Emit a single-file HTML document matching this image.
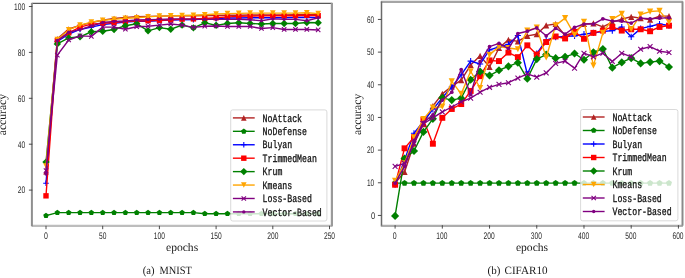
<!DOCTYPE html>
<html><head><meta charset="utf-8"><style>
html,body{margin:0;padding:0;background:#fff;}
body{width:685px;height:278px;overflow:hidden;}
svg{display:block;text-rendering:geometricPrecision;will-change:transform;}
.tk{font-family:"Liberation Sans",sans-serif;font-size:9.5px;fill:#2a2a2a;}
.lg{font-family:"Liberation Mono",monospace;font-size:11px;fill:#111;stroke:#111;stroke-width:0.3px;}
.lab{font-family:"Liberation Serif",serif;font-size:11.6px;fill:#1a1a1a;}
.cap{font-family:"Liberation Serif",serif;font-size:11.2px;fill:#1a1a1a;}
</style></head><body>
<svg width="685" height="278" viewBox="0 0 685 278">
<defs><clipPath id="cl"><rect x="32.3" y="3.4" width="299.5" height="222.4"/></clipPath><clipPath id="cr"><rect x="381.3" y="2.0" width="301.09999999999997" height="223.2"/></clipPath></defs>
<g clip-path="url(#cl)"><path d="M46.00,171.74L57.34,38.86L68.68,28.99L80.02,25.32L91.36,22.56L102.70,20.27L114.04,18.43L125.38,17.52L136.72,16.60L148.06,16.37L159.40,16.14L170.74,15.91L182.08,15.68L193.42,15.68L204.76,15.45L216.10,15.45L227.44,15.22L238.78,15.22L250.12,14.99L261.46,14.99L272.80,14.99L284.14,14.99L295.48,14.76L306.82,14.76L318.16,14.76" fill="none" stroke="#b22222" stroke-width="1.4" stroke-linejoin="round" stroke-linecap="square"/><path d="M46.00,168.94L48.80,174.54L43.20,174.54Z" fill="#b22222"/><path d="M57.34,36.06L60.14,41.66L54.54,41.66Z" fill="#b22222"/><path d="M68.68,26.19L71.48,31.79L65.88,31.79Z" fill="#b22222"/><path d="M80.02,22.52L82.82,28.12L77.22,28.12Z" fill="#b22222"/><path d="M91.36,19.76L94.16,25.36L88.56,25.36Z" fill="#b22222"/><path d="M102.70,17.47L105.50,23.07L99.90,23.07Z" fill="#b22222"/><path d="M114.04,15.63L116.84,21.23L111.24,21.23Z" fill="#b22222"/><path d="M125.38,14.72L128.18,20.32L122.58,20.32Z" fill="#b22222"/><path d="M136.72,13.80L139.52,19.40L133.92,19.40Z" fill="#b22222"/><path d="M148.06,13.57L150.86,19.17L145.26,19.17Z" fill="#b22222"/><path d="M159.40,13.34L162.20,18.94L156.60,18.94Z" fill="#b22222"/><path d="M170.74,13.11L173.54,18.71L167.94,18.71Z" fill="#b22222"/><path d="M182.08,12.88L184.88,18.48L179.28,18.48Z" fill="#b22222"/><path d="M193.42,12.88L196.22,18.48L190.62,18.48Z" fill="#b22222"/><path d="M204.76,12.65L207.56,18.25L201.96,18.25Z" fill="#b22222"/><path d="M216.10,12.65L218.90,18.25L213.30,18.25Z" fill="#b22222"/><path d="M227.44,12.42L230.24,18.02L224.64,18.02Z" fill="#b22222"/><path d="M238.78,12.42L241.58,18.02L235.98,18.02Z" fill="#b22222"/><path d="M250.12,12.19L252.92,17.79L247.32,17.79Z" fill="#b22222"/><path d="M261.46,12.19L264.26,17.79L258.66,17.79Z" fill="#b22222"/><path d="M272.80,12.19L275.60,17.79L270.00,17.79Z" fill="#b22222"/><path d="M284.14,12.19L286.94,17.79L281.34,17.79Z" fill="#b22222"/><path d="M295.48,11.96L298.28,17.56L292.68,17.56Z" fill="#b22222"/><path d="M306.82,11.96L309.62,17.56L304.02,17.56Z" fill="#b22222"/><path d="M318.16,11.96L320.96,17.56L315.36,17.56Z" fill="#b22222"/></g>
<g clip-path="url(#cl)"><path d="M46.00,215.57L57.34,212.59L68.68,212.59L80.02,212.59L91.36,212.59L102.70,212.59L114.04,212.59L125.38,212.59L136.72,212.59L148.06,212.59L159.40,212.59L170.74,212.59L182.08,212.59L193.42,212.59L204.76,213.74L216.10,213.74L227.44,213.74L238.78,213.74L250.12,213.74L261.46,213.74L272.80,213.74L284.14,213.74L295.48,213.74L306.82,213.74L318.16,213.74" fill="none" stroke="#008000" stroke-width="1.4" stroke-linejoin="round" stroke-linecap="square"/><polygon points="46.00,212.67 48.76,214.68 47.70,217.92 44.30,217.92 43.24,214.68" fill="#008000"/><polygon points="57.34,209.69 60.10,211.69 59.04,214.94 55.64,214.94 54.58,211.69" fill="#008000"/><polygon points="68.68,209.69 71.44,211.69 70.38,214.94 66.98,214.94 65.92,211.69" fill="#008000"/><polygon points="80.02,209.69 82.78,211.69 81.72,214.94 78.32,214.94 77.26,211.69" fill="#008000"/><polygon points="91.36,209.69 94.12,211.69 93.06,214.94 89.66,214.94 88.60,211.69" fill="#008000"/><polygon points="102.70,209.69 105.46,211.69 104.40,214.94 101.00,214.94 99.94,211.69" fill="#008000"/><polygon points="114.04,209.69 116.80,211.69 115.74,214.94 112.34,214.94 111.28,211.69" fill="#008000"/><polygon points="125.38,209.69 128.14,211.69 127.08,214.94 123.68,214.94 122.62,211.69" fill="#008000"/><polygon points="136.72,209.69 139.48,211.69 138.42,214.94 135.02,214.94 133.96,211.69" fill="#008000"/><polygon points="148.06,209.69 150.82,211.69 149.76,214.94 146.36,214.94 145.30,211.69" fill="#008000"/><polygon points="159.40,209.69 162.16,211.69 161.10,214.94 157.70,214.94 156.64,211.69" fill="#008000"/><polygon points="170.74,209.69 173.50,211.69 172.44,214.94 169.04,214.94 167.98,211.69" fill="#008000"/><polygon points="182.08,209.69 184.84,211.69 183.78,214.94 180.38,214.94 179.32,211.69" fill="#008000"/><polygon points="193.42,209.69 196.18,211.69 195.12,214.94 191.72,214.94 190.66,211.69" fill="#008000"/><polygon points="204.76,210.84 207.52,212.84 206.46,216.08 203.06,216.08 202.00,212.84" fill="#008000"/><polygon points="216.10,210.84 218.86,212.84 217.80,216.08 214.40,216.08 213.34,212.84" fill="#008000"/><polygon points="227.44,210.84 230.20,212.84 229.14,216.08 225.74,216.08 224.68,212.84" fill="#008000"/><polygon points="238.78,210.84 241.54,212.84 240.48,216.08 237.08,216.08 236.02,212.84" fill="#008000"/><polygon points="250.12,210.84 252.88,212.84 251.82,216.08 248.42,216.08 247.36,212.84" fill="#008000"/><polygon points="261.46,210.84 264.22,212.84 263.16,216.08 259.76,216.08 258.70,212.84" fill="#008000"/><polygon points="272.80,210.84 275.56,212.84 274.50,216.08 271.10,216.08 270.04,212.84" fill="#008000"/><polygon points="284.14,210.84 286.90,212.84 285.84,216.08 282.44,216.08 281.38,212.84" fill="#008000"/><polygon points="295.48,210.84 298.24,212.84 297.18,216.08 293.78,216.08 292.72,212.84" fill="#008000"/><polygon points="306.82,210.84 309.58,212.84 308.52,216.08 305.12,216.08 304.06,212.84" fill="#008000"/><polygon points="318.16,210.84 320.92,212.84 319.86,216.08 316.46,216.08 315.40,212.84" fill="#008000"/></g>
<g clip-path="url(#cl)"><path d="M46.00,183.22L57.34,41.38L68.68,34.04L80.02,29.45L91.36,27.16L102.70,24.63L114.04,23.25L125.38,22.11L136.72,21.42L148.06,21.19L159.40,20.50L170.74,20.04L182.08,19.81L193.42,19.58L204.76,19.12L216.10,18.66L227.44,17.98L238.78,17.98L250.12,17.75L261.46,17.75L272.80,17.75L284.14,17.75L295.48,17.52L306.82,17.29L318.16,17.75" fill="none" stroke="#0000ff" stroke-width="1.4" stroke-linejoin="round" stroke-linecap="square"/><path d="M43.20,183.22H48.80M46.00,180.41V186.02" stroke="#0000ff" stroke-width="1.1" fill="none"/><path d="M54.54,41.38H60.14M57.34,38.58V44.18" stroke="#0000ff" stroke-width="1.1" fill="none"/><path d="M65.88,34.04H71.48M68.68,31.24V36.84" stroke="#0000ff" stroke-width="1.1" fill="none"/><path d="M77.22,29.45H82.82M80.02,26.65V32.25" stroke="#0000ff" stroke-width="1.1" fill="none"/><path d="M88.56,27.16H94.16M91.36,24.36V29.96" stroke="#0000ff" stroke-width="1.1" fill="none"/><path d="M99.90,24.63H105.50M102.70,21.83V27.43" stroke="#0000ff" stroke-width="1.1" fill="none"/><path d="M111.24,23.25H116.84M114.04,20.45V26.05" stroke="#0000ff" stroke-width="1.1" fill="none"/><path d="M122.58,22.11H128.18M125.38,19.31V24.91" stroke="#0000ff" stroke-width="1.1" fill="none"/><path d="M133.92,21.42H139.52M136.72,18.62V24.22" stroke="#0000ff" stroke-width="1.1" fill="none"/><path d="M145.26,21.19H150.86M148.06,18.39V23.99" stroke="#0000ff" stroke-width="1.1" fill="none"/><path d="M156.60,20.50H162.20M159.40,17.70V23.30" stroke="#0000ff" stroke-width="1.1" fill="none"/><path d="M167.94,20.04H173.54M170.74,17.24V22.84" stroke="#0000ff" stroke-width="1.1" fill="none"/><path d="M179.28,19.81H184.88M182.08,17.01V22.61" stroke="#0000ff" stroke-width="1.1" fill="none"/><path d="M190.62,19.58H196.22M193.42,16.78V22.38" stroke="#0000ff" stroke-width="1.1" fill="none"/><path d="M201.96,19.12H207.56M204.76,16.32V21.92" stroke="#0000ff" stroke-width="1.1" fill="none"/><path d="M213.30,18.66H218.90M216.10,15.86V21.46" stroke="#0000ff" stroke-width="1.1" fill="none"/><path d="M224.64,17.98H230.24M227.44,15.18V20.78" stroke="#0000ff" stroke-width="1.1" fill="none"/><path d="M235.98,17.98H241.58M238.78,15.18V20.78" stroke="#0000ff" stroke-width="1.1" fill="none"/><path d="M247.32,17.75H252.92M250.12,14.95V20.55" stroke="#0000ff" stroke-width="1.1" fill="none"/><path d="M258.66,17.75H264.26M261.46,14.95V20.55" stroke="#0000ff" stroke-width="1.1" fill="none"/><path d="M270.00,17.75H275.60M272.80,14.95V20.55" stroke="#0000ff" stroke-width="1.1" fill="none"/><path d="M281.34,17.75H286.94M284.14,14.95V20.55" stroke="#0000ff" stroke-width="1.1" fill="none"/><path d="M292.68,17.52H298.28M295.48,14.72V20.32" stroke="#0000ff" stroke-width="1.1" fill="none"/><path d="M304.02,17.29H309.62M306.82,14.49V20.09" stroke="#0000ff" stroke-width="1.1" fill="none"/><path d="M315.36,17.75H320.96M318.16,14.95V20.55" stroke="#0000ff" stroke-width="1.1" fill="none"/></g>
<g clip-path="url(#cl)"><path d="M46.00,195.84L57.34,40.47L68.68,32.89L80.02,27.16L91.36,24.17L102.70,23.25L114.04,22.56L125.38,21.42L136.72,20.96L148.06,20.73L159.40,20.27L170.74,19.81L182.08,19.12L193.42,18.89L204.76,18.43L216.10,17.75L227.44,16.83L238.78,16.37L250.12,16.14L261.46,15.91L272.80,15.68L284.14,15.68L295.48,15.68L306.82,15.22L318.16,15.68" fill="none" stroke="#ff0000" stroke-width="1.4" stroke-linejoin="round" stroke-linecap="square"/><rect x="43.30" y="193.14" width="5.40" height="5.40" fill="#ff0000"/><rect x="54.64" y="37.77" width="5.40" height="5.40" fill="#ff0000"/><rect x="65.98" y="30.19" width="5.40" height="5.40" fill="#ff0000"/><rect x="77.32" y="24.46" width="5.40" height="5.40" fill="#ff0000"/><rect x="88.66" y="21.47" width="5.40" height="5.40" fill="#ff0000"/><rect x="100.00" y="20.55" width="5.40" height="5.40" fill="#ff0000"/><rect x="111.34" y="19.86" width="5.40" height="5.40" fill="#ff0000"/><rect x="122.68" y="18.72" width="5.40" height="5.40" fill="#ff0000"/><rect x="134.02" y="18.26" width="5.40" height="5.40" fill="#ff0000"/><rect x="145.36" y="18.03" width="5.40" height="5.40" fill="#ff0000"/><rect x="156.70" y="17.57" width="5.40" height="5.40" fill="#ff0000"/><rect x="168.04" y="17.11" width="5.40" height="5.40" fill="#ff0000"/><rect x="179.38" y="16.42" width="5.40" height="5.40" fill="#ff0000"/><rect x="190.72" y="16.19" width="5.40" height="5.40" fill="#ff0000"/><rect x="202.06" y="15.73" width="5.40" height="5.40" fill="#ff0000"/><rect x="213.40" y="15.05" width="5.40" height="5.40" fill="#ff0000"/><rect x="224.74" y="14.13" width="5.40" height="5.40" fill="#ff0000"/><rect x="236.08" y="13.67" width="5.40" height="5.40" fill="#ff0000"/><rect x="247.42" y="13.44" width="5.40" height="5.40" fill="#ff0000"/><rect x="258.76" y="13.21" width="5.40" height="5.40" fill="#ff0000"/><rect x="270.10" y="12.98" width="5.40" height="5.40" fill="#ff0000"/><rect x="281.44" y="12.98" width="5.40" height="5.40" fill="#ff0000"/><rect x="292.78" y="12.98" width="5.40" height="5.40" fill="#ff0000"/><rect x="304.12" y="12.52" width="5.40" height="5.40" fill="#ff0000"/><rect x="315.46" y="12.98" width="5.40" height="5.40" fill="#ff0000"/></g>
<g clip-path="url(#cl)"><path d="M46.00,162.10L57.34,43.91L68.68,37.94L80.02,36.79L91.36,31.74L102.70,31.29L114.04,29.45L125.38,25.78L136.72,23.71L148.06,30.83L159.40,27.61L170.74,29.22L182.08,25.09L193.42,27.84L204.76,22.79L216.10,25.32L227.44,23.48L238.78,22.79L250.12,23.48L261.46,23.94L272.80,23.48L284.14,23.48L295.48,23.48L306.82,22.56L318.16,22.79" fill="none" stroke="#008000" stroke-width="1.4" stroke-linejoin="round" stroke-linecap="square"/><path d="M46.00,158.40L49.70,162.10L46.00,165.80L42.30,162.10Z" fill="#008000"/><path d="M57.34,40.21L61.04,43.91L57.34,47.61L53.64,43.91Z" fill="#008000"/><path d="M68.68,34.24L72.38,37.94L68.68,41.64L64.98,37.94Z" fill="#008000"/><path d="M80.02,33.09L83.72,36.79L80.02,40.49L76.32,36.79Z" fill="#008000"/><path d="M91.36,28.04L95.06,31.74L91.36,35.45L87.66,31.74Z" fill="#008000"/><path d="M102.70,27.59L106.40,31.29L102.70,34.99L99.00,31.29Z" fill="#008000"/><path d="M114.04,25.75L117.74,29.45L114.04,33.15L110.34,29.45Z" fill="#008000"/><path d="M125.38,22.08L129.08,25.78L125.38,29.48L121.68,25.78Z" fill="#008000"/><path d="M136.72,20.01L140.42,23.71L136.72,27.41L133.02,23.71Z" fill="#008000"/><path d="M148.06,27.13L151.76,30.83L148.06,34.53L144.36,30.83Z" fill="#008000"/><path d="M159.40,23.91L163.10,27.61L159.40,31.31L155.70,27.61Z" fill="#008000"/><path d="M170.74,25.52L174.44,29.22L170.74,32.92L167.04,29.22Z" fill="#008000"/><path d="M182.08,21.39L185.78,25.09L182.08,28.79L178.38,25.09Z" fill="#008000"/><path d="M193.42,24.14L197.12,27.84L193.42,31.54L189.72,27.84Z" fill="#008000"/><path d="M204.76,19.09L208.46,22.79L204.76,26.49L201.06,22.79Z" fill="#008000"/><path d="M216.10,21.62L219.80,25.32L216.10,29.02L212.40,25.32Z" fill="#008000"/><path d="M227.44,19.78L231.14,23.48L227.44,27.18L223.74,23.48Z" fill="#008000"/><path d="M238.78,19.09L242.48,22.79L238.78,26.49L235.08,22.79Z" fill="#008000"/><path d="M250.12,19.78L253.82,23.48L250.12,27.18L246.42,23.48Z" fill="#008000"/><path d="M261.46,20.24L265.16,23.94L261.46,27.64L257.76,23.94Z" fill="#008000"/><path d="M272.80,19.78L276.50,23.48L272.80,27.18L269.10,23.48Z" fill="#008000"/><path d="M284.14,19.78L287.84,23.48L284.14,27.18L280.44,23.48Z" fill="#008000"/><path d="M295.48,19.78L299.18,23.48L295.48,27.18L291.78,23.48Z" fill="#008000"/><path d="M306.82,18.86L310.52,22.56L306.82,26.26L303.12,22.56Z" fill="#008000"/><path d="M318.16,19.09L321.86,22.79L318.16,26.49L314.46,22.79Z" fill="#008000"/></g>
<g clip-path="url(#cl)"><path d="M46.00,166.00L57.34,39.55L68.68,29.91L80.02,25.09L91.36,22.11L102.70,20.27L114.04,19.35L125.38,18.20L136.72,17.75L148.06,16.83L159.40,16.14L170.74,15.91L182.08,15.45L193.42,15.22L204.76,14.76L216.10,14.07L227.44,13.61L238.78,13.38L250.12,13.16L261.46,13.16L272.80,13.16L284.14,13.16L295.48,13.16L306.82,12.70L318.16,13.61" fill="none" stroke="#ffa500" stroke-width="1.4" stroke-linejoin="round" stroke-linecap="square"/><path d="M46.00,168.80L48.80,163.20L43.20,163.20Z" fill="#ffa500"/><path d="M57.34,42.35L60.14,36.75L54.54,36.75Z" fill="#ffa500"/><path d="M68.68,32.71L71.48,27.11L65.88,27.11Z" fill="#ffa500"/><path d="M80.02,27.89L82.82,22.29L77.22,22.29Z" fill="#ffa500"/><path d="M91.36,24.91L94.16,19.31L88.56,19.31Z" fill="#ffa500"/><path d="M102.70,23.07L105.50,17.47L99.90,17.47Z" fill="#ffa500"/><path d="M114.04,22.15L116.84,16.55L111.24,16.55Z" fill="#ffa500"/><path d="M125.38,21.00L128.18,15.40L122.58,15.40Z" fill="#ffa500"/><path d="M136.72,20.55L139.52,14.95L133.92,14.95Z" fill="#ffa500"/><path d="M148.06,19.63L150.86,14.03L145.26,14.03Z" fill="#ffa500"/><path d="M159.40,18.94L162.20,13.34L156.60,13.34Z" fill="#ffa500"/><path d="M170.74,18.71L173.54,13.11L167.94,13.11Z" fill="#ffa500"/><path d="M182.08,18.25L184.88,12.65L179.28,12.65Z" fill="#ffa500"/><path d="M193.42,18.02L196.22,12.42L190.62,12.42Z" fill="#ffa500"/><path d="M204.76,17.56L207.56,11.96L201.96,11.96Z" fill="#ffa500"/><path d="M216.10,16.87L218.90,11.27L213.30,11.27Z" fill="#ffa500"/><path d="M227.44,16.41L230.24,10.81L224.64,10.81Z" fill="#ffa500"/><path d="M238.78,16.18L241.58,10.59L235.98,10.59Z" fill="#ffa500"/><path d="M250.12,15.96L252.92,10.36L247.32,10.36Z" fill="#ffa500"/><path d="M261.46,15.96L264.26,10.36L258.66,10.36Z" fill="#ffa500"/><path d="M272.80,15.96L275.60,10.36L270.00,10.36Z" fill="#ffa500"/><path d="M284.14,15.96L286.94,10.36L281.34,10.36Z" fill="#ffa500"/><path d="M295.48,15.96L298.28,10.36L292.68,10.36Z" fill="#ffa500"/><path d="M306.82,15.50L309.62,9.90L304.02,9.90Z" fill="#ffa500"/><path d="M318.16,16.41L320.96,10.81L315.36,10.81Z" fill="#ffa500"/></g>
<g clip-path="url(#cl)"><path d="M46.00,170.59L57.34,55.15L68.68,40.01L80.02,35.88L91.36,36.34L102.70,27.16L114.04,27.16L125.38,29.22L136.72,26.70L148.06,26.24L159.40,25.09L170.74,23.94L182.08,25.09L193.42,27.38L204.76,26.24L216.10,26.01L227.44,26.47L238.78,26.47L250.12,26.47L261.46,28.53L272.80,27.61L284.14,29.45L295.48,29.45L306.82,29.45L318.16,29.91" fill="none" stroke="#800080" stroke-width="1.4" stroke-linejoin="round" stroke-linecap="square"/><path d="M43.80,168.39L48.20,172.79M43.80,172.79L48.20,168.39" stroke="#800080" stroke-width="1.1" fill="none"/><path d="M55.14,52.95L59.54,57.35M55.14,57.35L59.54,52.95" stroke="#800080" stroke-width="1.1" fill="none"/><path d="M66.48,37.81L70.88,42.21M66.48,42.21L70.88,37.81" stroke="#800080" stroke-width="1.1" fill="none"/><path d="M77.82,33.68L82.22,38.08M77.82,38.08L82.22,33.68" stroke="#800080" stroke-width="1.1" fill="none"/><path d="M89.16,34.13L93.56,38.54M89.16,38.54L93.56,34.13" stroke="#800080" stroke-width="1.1" fill="none"/><path d="M100.50,24.96L104.90,29.36M100.50,29.36L104.90,24.96" stroke="#800080" stroke-width="1.1" fill="none"/><path d="M111.84,24.96L116.24,29.36M111.84,29.36L116.24,24.96" stroke="#800080" stroke-width="1.1" fill="none"/><path d="M123.18,27.02L127.58,31.42M123.18,31.42L127.58,27.02" stroke="#800080" stroke-width="1.1" fill="none"/><path d="M134.52,24.50L138.92,28.90M134.52,28.90L138.92,24.50" stroke="#800080" stroke-width="1.1" fill="none"/><path d="M145.86,24.04L150.26,28.44M145.86,28.44L150.26,24.04" stroke="#800080" stroke-width="1.1" fill="none"/><path d="M157.20,22.89L161.60,27.29M157.20,27.29L161.60,22.89" stroke="#800080" stroke-width="1.1" fill="none"/><path d="M168.54,21.74L172.94,26.14M168.54,26.14L172.94,21.74" stroke="#800080" stroke-width="1.1" fill="none"/><path d="M179.88,22.89L184.28,27.29M179.88,27.29L184.28,22.89" stroke="#800080" stroke-width="1.1" fill="none"/><path d="M191.22,25.18L195.62,29.58M191.22,29.58L195.62,25.18" stroke="#800080" stroke-width="1.1" fill="none"/><path d="M202.56,24.04L206.96,28.44M202.56,28.44L206.96,24.04" stroke="#800080" stroke-width="1.1" fill="none"/><path d="M213.90,23.81L218.30,28.21M213.90,28.21L218.30,23.81" stroke="#800080" stroke-width="1.1" fill="none"/><path d="M225.24,24.27L229.64,28.67M225.24,28.67L229.64,24.27" stroke="#800080" stroke-width="1.1" fill="none"/><path d="M236.58,24.27L240.98,28.67M236.58,28.67L240.98,24.27" stroke="#800080" stroke-width="1.1" fill="none"/><path d="M247.92,24.27L252.32,28.67M247.92,28.67L252.32,24.27" stroke="#800080" stroke-width="1.1" fill="none"/><path d="M259.26,26.33L263.66,30.73M259.26,30.73L263.66,26.33" stroke="#800080" stroke-width="1.1" fill="none"/><path d="M270.60,25.41L275.00,29.81M270.60,29.81L275.00,25.41" stroke="#800080" stroke-width="1.1" fill="none"/><path d="M281.94,27.25L286.34,31.65M281.94,31.65L286.34,27.25" stroke="#800080" stroke-width="1.1" fill="none"/><path d="M293.28,27.25L297.68,31.65M293.28,31.65L297.68,27.25" stroke="#800080" stroke-width="1.1" fill="none"/><path d="M304.62,27.25L309.02,31.65M304.62,31.65L309.02,27.25" stroke="#800080" stroke-width="1.1" fill="none"/><path d="M315.96,27.71L320.36,32.11M315.96,32.11L320.36,27.71" stroke="#800080" stroke-width="1.1" fill="none"/></g>
<g clip-path="url(#cl)"><path d="M46.00,174.03L57.34,40.47L68.68,32.20L80.02,29.68L91.36,26.01L102.70,22.56L114.04,21.42L125.38,20.96L136.72,20.04L148.06,19.58L159.40,19.35L170.74,18.89L182.08,18.89L193.42,19.12L204.76,19.35L216.10,19.35L227.44,19.35L238.78,19.35L250.12,19.81L261.46,20.73L272.80,18.89L284.14,19.35L295.48,19.35L306.82,20.73L318.16,17.75" fill="none" stroke="#800080" stroke-width="1.4" stroke-linejoin="round" stroke-linecap="square"/><circle cx="46.00" cy="174.03" r="1.70" fill="#800080"/><circle cx="57.34" cy="40.47" r="1.70" fill="#800080"/><circle cx="68.68" cy="32.20" r="1.70" fill="#800080"/><circle cx="80.02" cy="29.68" r="1.70" fill="#800080"/><circle cx="91.36" cy="26.01" r="1.70" fill="#800080"/><circle cx="102.70" cy="22.56" r="1.70" fill="#800080"/><circle cx="114.04" cy="21.42" r="1.70" fill="#800080"/><circle cx="125.38" cy="20.96" r="1.70" fill="#800080"/><circle cx="136.72" cy="20.04" r="1.70" fill="#800080"/><circle cx="148.06" cy="19.58" r="1.70" fill="#800080"/><circle cx="159.40" cy="19.35" r="1.70" fill="#800080"/><circle cx="170.74" cy="18.89" r="1.70" fill="#800080"/><circle cx="182.08" cy="18.89" r="1.70" fill="#800080"/><circle cx="193.42" cy="19.12" r="1.70" fill="#800080"/><circle cx="204.76" cy="19.35" r="1.70" fill="#800080"/><circle cx="216.10" cy="19.35" r="1.70" fill="#800080"/><circle cx="227.44" cy="19.35" r="1.70" fill="#800080"/><circle cx="238.78" cy="19.35" r="1.70" fill="#800080"/><circle cx="250.12" cy="19.81" r="1.70" fill="#800080"/><circle cx="261.46" cy="20.73" r="1.70" fill="#800080"/><circle cx="272.80" cy="18.89" r="1.70" fill="#800080"/><circle cx="284.14" cy="19.35" r="1.70" fill="#800080"/><circle cx="295.48" cy="19.35" r="1.70" fill="#800080"/><circle cx="306.82" cy="20.73" r="1.70" fill="#800080"/><circle cx="318.16" cy="17.75" r="1.70" fill="#800080"/></g>
<g clip-path="url(#cr)"><path d="M395.10,183.10L404.54,171.95L413.99,143.74L423.43,124.06L432.88,106.02L442.32,93.88L451.76,86.34L461.21,80.11L470.65,65.02L480.10,55.84L489.54,66.99L498.98,47.96L508.43,39.76L517.87,41.40L527.32,35.83L536.76,34.19L546.20,25.33L555.65,24.02L565.09,35.50L574.54,32.22L583.98,24.02L593.42,23.36L602.87,26.97L612.31,22.05L621.76,19.10L631.20,16.80L640.64,18.12L650.09,19.76L659.53,16.15L668.98,16.15" fill="none" stroke="#b22222" stroke-width="1.4" stroke-linejoin="round" stroke-linecap="square"/><path d="M395.10,180.02L398.18,186.18L392.02,186.18Z" fill="#b22222"/><path d="M404.54,168.87L407.62,175.03L401.46,175.03Z" fill="#b22222"/><path d="M413.99,140.66L417.07,146.82L410.91,146.82Z" fill="#b22222"/><path d="M423.43,120.98L426.51,127.14L420.35,127.14Z" fill="#b22222"/><path d="M432.88,102.94L435.96,109.10L429.80,109.10Z" fill="#b22222"/><path d="M442.32,90.80L445.40,96.96L439.24,96.96Z" fill="#b22222"/><path d="M451.76,83.26L454.84,89.42L448.68,89.42Z" fill="#b22222"/><path d="M461.21,77.03L464.29,83.19L458.13,83.19Z" fill="#b22222"/><path d="M470.65,61.94L473.73,68.10L467.57,68.10Z" fill="#b22222"/><path d="M480.10,52.76L483.18,58.92L477.02,58.92Z" fill="#b22222"/><path d="M489.54,63.91L492.62,70.07L486.46,70.07Z" fill="#b22222"/><path d="M498.98,44.88L502.06,51.04L495.90,51.04Z" fill="#b22222"/><path d="M508.43,36.68L511.51,42.84L505.35,42.84Z" fill="#b22222"/><path d="M517.87,38.32L520.95,44.48L514.79,44.48Z" fill="#b22222"/><path d="M527.32,32.75L530.40,38.91L524.24,38.91Z" fill="#b22222"/><path d="M536.76,31.11L539.84,37.27L533.68,37.27Z" fill="#b22222"/><path d="M546.20,22.25L549.28,28.41L543.12,28.41Z" fill="#b22222"/><path d="M555.65,20.94L558.73,27.10L552.57,27.10Z" fill="#b22222"/><path d="M565.09,32.42L568.17,38.58L562.01,38.58Z" fill="#b22222"/><path d="M574.54,29.14L577.62,35.30L571.46,35.30Z" fill="#b22222"/><path d="M583.98,20.94L587.06,27.10L580.90,27.10Z" fill="#b22222"/><path d="M593.42,20.28L596.50,26.44L590.34,26.44Z" fill="#b22222"/><path d="M602.87,23.89L605.95,30.05L599.79,30.05Z" fill="#b22222"/><path d="M612.31,18.97L615.39,25.13L609.23,25.13Z" fill="#b22222"/><path d="M621.76,16.02L624.84,22.18L618.68,22.18Z" fill="#b22222"/><path d="M631.20,13.72L634.28,19.88L628.12,19.88Z" fill="#b22222"/><path d="M640.64,15.04L643.72,21.20L637.56,21.20Z" fill="#b22222"/><path d="M650.09,16.68L653.17,22.84L647.01,22.84Z" fill="#b22222"/><path d="M659.53,13.07L662.61,19.23L656.45,19.23Z" fill="#b22222"/><path d="M668.98,13.07L672.06,19.23L665.90,19.23Z" fill="#b22222"/></g>
<g clip-path="url(#cr)"><path d="M395.10,183.10L404.54,183.10L413.99,183.10L423.43,183.10L432.88,183.10L442.32,183.10L451.76,183.10L461.21,183.10L470.65,183.10L480.10,183.10L489.54,183.10L498.98,183.10L508.43,183.10L517.87,183.10L527.32,183.10L536.76,183.10L546.20,183.10L555.65,183.10L565.09,183.10L574.54,183.10L583.98,183.10L593.42,183.10L602.87,183.10L612.31,183.10L621.76,183.10L631.20,183.10L640.64,183.10L650.09,183.10L659.53,183.10L668.98,183.10" fill="none" stroke="#008000" stroke-width="1.4" stroke-linejoin="round" stroke-linecap="square"/><polygon points="395.10,179.91 398.13,182.11 396.98,185.68 393.22,185.68 392.07,182.11" fill="#008000"/><polygon points="404.54,179.91 407.58,182.11 406.42,185.68 402.67,185.68 401.51,182.11" fill="#008000"/><polygon points="413.99,179.91 417.02,182.11 415.86,185.68 412.11,185.68 410.95,182.11" fill="#008000"/><polygon points="423.43,179.91 426.47,182.11 425.31,185.68 421.56,185.68 420.40,182.11" fill="#008000"/><polygon points="432.88,179.91 435.91,182.11 434.75,185.68 431.00,185.68 429.84,182.11" fill="#008000"/><polygon points="442.32,179.91 445.35,182.11 444.20,185.68 440.44,185.68 439.29,182.11" fill="#008000"/><polygon points="451.76,179.91 454.80,182.11 453.64,185.68 449.89,185.68 448.73,182.11" fill="#008000"/><polygon points="461.21,179.91 464.24,182.11 463.08,185.68 459.33,185.68 458.17,182.11" fill="#008000"/><polygon points="470.65,179.91 473.69,182.11 472.53,185.68 468.78,185.68 467.62,182.11" fill="#008000"/><polygon points="480.10,179.91 483.13,182.11 481.97,185.68 478.22,185.68 477.06,182.11" fill="#008000"/><polygon points="489.54,179.91 492.57,182.11 491.42,185.68 487.66,185.68 486.51,182.11" fill="#008000"/><polygon points="498.98,179.91 502.02,182.11 500.86,185.68 497.11,185.68 495.95,182.11" fill="#008000"/><polygon points="508.43,179.91 511.46,182.11 510.30,185.68 506.55,185.68 505.39,182.11" fill="#008000"/><polygon points="517.87,179.91 520.91,182.11 519.75,185.68 516.00,185.68 514.84,182.11" fill="#008000"/><polygon points="527.32,179.91 530.35,182.11 529.19,185.68 525.44,185.68 524.28,182.11" fill="#008000"/><polygon points="536.76,179.91 539.79,182.11 538.64,185.68 534.88,185.68 533.73,182.11" fill="#008000"/><polygon points="546.20,179.91 549.24,182.11 548.08,185.68 544.33,185.68 543.17,182.11" fill="#008000"/><polygon points="555.65,179.91 558.68,182.11 557.52,185.68 553.77,185.68 552.61,182.11" fill="#008000"/><polygon points="565.09,179.91 568.13,182.11 566.97,185.68 563.22,185.68 562.06,182.11" fill="#008000"/><polygon points="574.54,179.91 577.57,182.11 576.41,185.68 572.66,185.68 571.50,182.11" fill="#008000"/><polygon points="583.98,179.91 587.01,182.11 585.86,185.68 582.10,185.68 580.95,182.11" fill="#008000"/><polygon points="593.42,179.91 596.46,182.11 595.30,185.68 591.55,185.68 590.39,182.11" fill="#008000"/><polygon points="602.87,179.91 605.90,182.11 604.74,185.68 600.99,185.68 599.83,182.11" fill="#008000"/><polygon points="612.31,179.91 615.35,182.11 614.19,185.68 610.44,185.68 609.28,182.11" fill="#008000"/><polygon points="621.76,179.91 624.79,182.11 623.63,185.68 619.88,185.68 618.72,182.11" fill="#008000"/><polygon points="631.20,179.91 634.23,182.11 633.08,185.68 629.32,185.68 628.17,182.11" fill="#008000"/><polygon points="640.64,179.91 643.68,182.11 642.52,185.68 638.77,185.68 637.61,182.11" fill="#008000"/><polygon points="650.09,179.91 653.12,182.11 651.96,185.68 648.21,185.68 647.05,182.11" fill="#008000"/><polygon points="659.53,179.91 662.57,182.11 661.41,185.68 657.66,185.68 656.50,182.11" fill="#008000"/><polygon points="668.98,179.91 672.01,182.11 670.85,185.68 667.10,185.68 665.94,182.11" fill="#008000"/></g>
<g clip-path="url(#cr)"><path d="M395.10,184.74L404.54,160.14L413.99,133.24L423.43,121.44L432.88,109.30L442.32,97.82L451.76,87.00L461.21,74.86L470.65,61.08L480.10,64.04L489.54,49.93L498.98,46.98L508.43,44.36L517.87,35.50L527.32,74.20L536.76,53.54L546.20,40.09L555.65,37.14L565.09,36.48L574.54,35.83L583.98,34.19L593.42,32.88L602.87,31.56L612.31,30.58L621.76,26.97L631.20,36.81L640.64,28.61L650.09,26.32L659.53,24.02L668.98,25.66" fill="none" stroke="#0000ff" stroke-width="1.4" stroke-linejoin="round" stroke-linecap="square"/><path d="M392.02,184.74H398.18M395.10,181.66V187.82" stroke="#0000ff" stroke-width="1.1" fill="none"/><path d="M401.46,160.14H407.62M404.54,157.06V163.22" stroke="#0000ff" stroke-width="1.1" fill="none"/><path d="M410.91,133.24H417.07M413.99,130.16V136.32" stroke="#0000ff" stroke-width="1.1" fill="none"/><path d="M420.35,121.44H426.51M423.43,118.36V124.52" stroke="#0000ff" stroke-width="1.1" fill="none"/><path d="M429.80,109.30H435.96M432.88,106.22V112.38" stroke="#0000ff" stroke-width="1.1" fill="none"/><path d="M439.24,97.82H445.40M442.32,94.74V100.90" stroke="#0000ff" stroke-width="1.1" fill="none"/><path d="M448.68,87.00H454.84M451.76,83.92V90.08" stroke="#0000ff" stroke-width="1.1" fill="none"/><path d="M458.13,74.86H464.29M461.21,71.78V77.94" stroke="#0000ff" stroke-width="1.1" fill="none"/><path d="M467.57,61.08H473.73M470.65,58.00V64.16" stroke="#0000ff" stroke-width="1.1" fill="none"/><path d="M477.02,64.04H483.18M480.10,60.96V67.12" stroke="#0000ff" stroke-width="1.1" fill="none"/><path d="M486.46,49.93H492.62M489.54,46.85V53.01" stroke="#0000ff" stroke-width="1.1" fill="none"/><path d="M495.90,46.98H502.06M498.98,43.90V50.06" stroke="#0000ff" stroke-width="1.1" fill="none"/><path d="M505.35,44.36H511.51M508.43,41.28V47.44" stroke="#0000ff" stroke-width="1.1" fill="none"/><path d="M514.79,35.50H520.95M517.87,32.42V38.58" stroke="#0000ff" stroke-width="1.1" fill="none"/><path d="M524.24,74.20H530.40M527.32,71.12V77.28" stroke="#0000ff" stroke-width="1.1" fill="none"/><path d="M533.68,53.54H539.84M536.76,50.46V56.62" stroke="#0000ff" stroke-width="1.1" fill="none"/><path d="M543.12,40.09H549.28M546.20,37.01V43.17" stroke="#0000ff" stroke-width="1.1" fill="none"/><path d="M552.57,37.14H558.73M555.65,34.06V40.22" stroke="#0000ff" stroke-width="1.1" fill="none"/><path d="M562.01,36.48H568.17M565.09,33.40V39.56" stroke="#0000ff" stroke-width="1.1" fill="none"/><path d="M571.46,35.83H577.62M574.54,32.75V38.91" stroke="#0000ff" stroke-width="1.1" fill="none"/><path d="M580.90,34.19H587.06M583.98,31.11V37.27" stroke="#0000ff" stroke-width="1.1" fill="none"/><path d="M590.34,32.88H596.50M593.42,29.80V35.96" stroke="#0000ff" stroke-width="1.1" fill="none"/><path d="M599.79,31.56H605.95M602.87,28.48V34.64" stroke="#0000ff" stroke-width="1.1" fill="none"/><path d="M609.23,30.58H615.39M612.31,27.50V33.66" stroke="#0000ff" stroke-width="1.1" fill="none"/><path d="M618.68,26.97H624.84M621.76,23.89V30.05" stroke="#0000ff" stroke-width="1.1" fill="none"/><path d="M628.12,36.81H634.28M631.20,33.73V39.89" stroke="#0000ff" stroke-width="1.1" fill="none"/><path d="M637.56,28.61H643.72M640.64,25.53V31.69" stroke="#0000ff" stroke-width="1.1" fill="none"/><path d="M647.01,26.32H653.17M650.09,23.24V29.40" stroke="#0000ff" stroke-width="1.1" fill="none"/><path d="M656.45,24.02H662.61M659.53,20.94V27.10" stroke="#0000ff" stroke-width="1.1" fill="none"/><path d="M665.90,25.66H672.06M668.98,22.58V28.74" stroke="#0000ff" stroke-width="1.1" fill="none"/></g>
<g clip-path="url(#cr)"><path d="M395.10,184.74L404.54,148.33L413.99,137.18L423.43,119.80L432.88,143.74L442.32,117.83L451.76,108.97L461.21,104.05L470.65,90.93L480.10,76.17L489.54,60.43L498.98,61.08L508.43,52.56L517.87,57.15L527.32,45.34L536.76,54.52L546.20,42.06L555.65,36.48L565.09,38.45L574.54,31.89L583.98,38.78L593.42,32.88L602.87,30.58L612.31,26.97L621.76,30.58L631.20,29.27L640.64,29.27L650.09,31.24L659.53,26.97L668.98,25.66" fill="none" stroke="#ff0000" stroke-width="1.4" stroke-linejoin="round" stroke-linecap="square"/><rect x="392.13" y="181.77" width="5.94" height="5.94" fill="#ff0000"/><rect x="401.57" y="145.36" width="5.94" height="5.94" fill="#ff0000"/><rect x="411.02" y="134.21" width="5.94" height="5.94" fill="#ff0000"/><rect x="420.46" y="116.83" width="5.94" height="5.94" fill="#ff0000"/><rect x="429.91" y="140.77" width="5.94" height="5.94" fill="#ff0000"/><rect x="439.35" y="114.86" width="5.94" height="5.94" fill="#ff0000"/><rect x="448.79" y="106.00" width="5.94" height="5.94" fill="#ff0000"/><rect x="458.24" y="101.08" width="5.94" height="5.94" fill="#ff0000"/><rect x="467.68" y="87.96" width="5.94" height="5.94" fill="#ff0000"/><rect x="477.13" y="73.20" width="5.94" height="5.94" fill="#ff0000"/><rect x="486.57" y="57.46" width="5.94" height="5.94" fill="#ff0000"/><rect x="496.01" y="58.11" width="5.94" height="5.94" fill="#ff0000"/><rect x="505.46" y="49.59" width="5.94" height="5.94" fill="#ff0000"/><rect x="514.90" y="54.18" width="5.94" height="5.94" fill="#ff0000"/><rect x="524.35" y="42.37" width="5.94" height="5.94" fill="#ff0000"/><rect x="533.79" y="51.55" width="5.94" height="5.94" fill="#ff0000"/><rect x="543.23" y="39.09" width="5.94" height="5.94" fill="#ff0000"/><rect x="552.68" y="33.51" width="5.94" height="5.94" fill="#ff0000"/><rect x="562.12" y="35.48" width="5.94" height="5.94" fill="#ff0000"/><rect x="571.57" y="28.92" width="5.94" height="5.94" fill="#ff0000"/><rect x="581.01" y="35.81" width="5.94" height="5.94" fill="#ff0000"/><rect x="590.45" y="29.91" width="5.94" height="5.94" fill="#ff0000"/><rect x="599.90" y="27.61" width="5.94" height="5.94" fill="#ff0000"/><rect x="609.34" y="24.00" width="5.94" height="5.94" fill="#ff0000"/><rect x="618.79" y="27.61" width="5.94" height="5.94" fill="#ff0000"/><rect x="628.23" y="26.30" width="5.94" height="5.94" fill="#ff0000"/><rect x="637.67" y="26.30" width="5.94" height="5.94" fill="#ff0000"/><rect x="647.12" y="28.27" width="5.94" height="5.94" fill="#ff0000"/><rect x="656.56" y="24.00" width="5.94" height="5.94" fill="#ff0000"/><rect x="666.01" y="22.69" width="5.94" height="5.94" fill="#ff0000"/></g>
<g clip-path="url(#cr)"><path d="M395.10,215.90L404.54,158.50L413.99,150.96L423.43,131.93L432.88,118.81L442.32,97.82L451.76,100.12L461.21,98.15L470.65,79.78L480.10,71.58L489.54,75.52L498.98,70.27L508.43,66.33L517.87,62.72L527.32,78.80L536.76,59.12L546.20,54.52L555.65,58.13L565.09,56.82L574.54,53.54L583.98,59.77L593.42,52.23L602.87,48.95L612.31,67.64L621.76,62.40L631.20,58.13L640.64,63.38L650.09,62.07L659.53,61.08L668.98,66.99" fill="none" stroke="#008000" stroke-width="1.4" stroke-linejoin="round" stroke-linecap="square"/><path d="M395.10,211.83L399.17,215.90L395.10,219.97L391.03,215.90Z" fill="#008000"/><path d="M404.54,154.43L408.61,158.50L404.54,162.57L400.47,158.50Z" fill="#008000"/><path d="M413.99,146.89L418.06,150.96L413.99,155.03L409.92,150.96Z" fill="#008000"/><path d="M423.43,127.86L427.50,131.93L423.43,136.00L419.36,131.93Z" fill="#008000"/><path d="M432.88,114.74L436.95,118.81L432.88,122.88L428.81,118.81Z" fill="#008000"/><path d="M442.32,93.75L446.39,97.82L442.32,101.89L438.25,97.82Z" fill="#008000"/><path d="M451.76,96.05L455.83,100.12L451.76,104.19L447.69,100.12Z" fill="#008000"/><path d="M461.21,94.08L465.28,98.15L461.21,102.22L457.14,98.15Z" fill="#008000"/><path d="M470.65,75.71L474.72,79.78L470.65,83.85L466.58,79.78Z" fill="#008000"/><path d="M480.10,67.51L484.17,71.58L480.10,75.65L476.03,71.58Z" fill="#008000"/><path d="M489.54,71.45L493.61,75.52L489.54,79.59L485.47,75.52Z" fill="#008000"/><path d="M498.98,66.20L503.05,70.27L498.98,74.34L494.91,70.27Z" fill="#008000"/><path d="M508.43,62.26L512.50,66.33L508.43,70.40L504.36,66.33Z" fill="#008000"/><path d="M517.87,58.65L521.94,62.72L517.87,66.79L513.80,62.72Z" fill="#008000"/><path d="M527.32,74.73L531.39,78.80L527.32,82.87L523.25,78.80Z" fill="#008000"/><path d="M536.76,55.05L540.83,59.12L536.76,63.19L532.69,59.12Z" fill="#008000"/><path d="M546.20,50.45L550.27,54.52L546.20,58.59L542.13,54.52Z" fill="#008000"/><path d="M555.65,54.06L559.72,58.13L555.65,62.20L551.58,58.13Z" fill="#008000"/><path d="M565.09,52.75L569.16,56.82L565.09,60.89L561.02,56.82Z" fill="#008000"/><path d="M574.54,49.47L578.61,53.54L574.54,57.61L570.47,53.54Z" fill="#008000"/><path d="M583.98,55.70L588.05,59.77L583.98,63.84L579.91,59.77Z" fill="#008000"/><path d="M593.42,48.16L597.49,52.23L593.42,56.30L589.35,52.23Z" fill="#008000"/><path d="M602.87,44.88L606.94,48.95L602.87,53.02L598.80,48.95Z" fill="#008000"/><path d="M612.31,63.57L616.38,67.64L612.31,71.71L608.24,67.64Z" fill="#008000"/><path d="M621.76,58.33L625.83,62.40L621.76,66.47L617.69,62.40Z" fill="#008000"/><path d="M631.20,54.06L635.27,58.13L631.20,62.20L627.13,58.13Z" fill="#008000"/><path d="M640.64,59.31L644.71,63.38L640.64,67.45L636.57,63.38Z" fill="#008000"/><path d="M650.09,58.00L654.16,62.07L650.09,66.14L646.02,62.07Z" fill="#008000"/><path d="M659.53,57.01L663.60,61.08L659.53,65.15L655.46,61.08Z" fill="#008000"/><path d="M668.98,62.92L673.05,66.99L668.98,71.06L664.91,66.99Z" fill="#008000"/></g>
<g clip-path="url(#cr)"><path d="M395.10,180.80L404.54,163.42L413.99,137.51L423.43,119.14L432.88,107.66L442.32,106.68L451.76,81.42L461.21,93.88L470.65,71.25L480.10,87.98L489.54,54.85L498.98,46.65L508.43,47.96L517.87,49.28L527.32,30.58L536.76,27.63L546.20,57.48L555.65,25.33L565.09,18.12L574.54,34.84L583.98,21.72L593.42,65.68L602.87,32.88L612.31,19.10L621.76,13.85L631.20,29.27L640.64,14.51L650.09,11.56L659.53,10.90L668.98,22.05" fill="none" stroke="#ffa500" stroke-width="1.4" stroke-linejoin="round" stroke-linecap="square"/><path d="M395.10,183.88L398.18,177.72L392.02,177.72Z" fill="#ffa500"/><path d="M404.54,166.50L407.62,160.34L401.46,160.34Z" fill="#ffa500"/><path d="M413.99,140.59L417.07,134.43L410.91,134.43Z" fill="#ffa500"/><path d="M423.43,122.22L426.51,116.06L420.35,116.06Z" fill="#ffa500"/><path d="M432.88,110.74L435.96,104.58L429.80,104.58Z" fill="#ffa500"/><path d="M442.32,109.76L445.40,103.60L439.24,103.60Z" fill="#ffa500"/><path d="M451.76,84.50L454.84,78.34L448.68,78.34Z" fill="#ffa500"/><path d="M461.21,96.96L464.29,90.80L458.13,90.80Z" fill="#ffa500"/><path d="M470.65,74.33L473.73,68.17L467.57,68.17Z" fill="#ffa500"/><path d="M480.10,91.06L483.18,84.90L477.02,84.90Z" fill="#ffa500"/><path d="M489.54,57.93L492.62,51.77L486.46,51.77Z" fill="#ffa500"/><path d="M498.98,49.73L502.06,43.57L495.90,43.57Z" fill="#ffa500"/><path d="M508.43,51.04L511.51,44.88L505.35,44.88Z" fill="#ffa500"/><path d="M517.87,52.36L520.95,46.20L514.79,46.20Z" fill="#ffa500"/><path d="M527.32,33.66L530.40,27.50L524.24,27.50Z" fill="#ffa500"/><path d="M536.76,30.71L539.84,24.55L533.68,24.55Z" fill="#ffa500"/><path d="M546.20,60.56L549.28,54.40L543.12,54.40Z" fill="#ffa500"/><path d="M555.65,28.41L558.73,22.25L552.57,22.25Z" fill="#ffa500"/><path d="M565.09,21.20L568.17,15.04L562.01,15.04Z" fill="#ffa500"/><path d="M574.54,37.92L577.62,31.76L571.46,31.76Z" fill="#ffa500"/><path d="M583.98,24.80L587.06,18.64L580.90,18.64Z" fill="#ffa500"/><path d="M593.42,68.76L596.50,62.60L590.34,62.60Z" fill="#ffa500"/><path d="M602.87,35.96L605.95,29.80L599.79,29.80Z" fill="#ffa500"/><path d="M612.31,22.18L615.39,16.02L609.23,16.02Z" fill="#ffa500"/><path d="M621.76,16.93L624.84,10.77L618.68,10.77Z" fill="#ffa500"/><path d="M631.20,32.35L634.28,26.19L628.12,26.19Z" fill="#ffa500"/><path d="M640.64,17.59L643.72,11.43L637.56,11.43Z" fill="#ffa500"/><path d="M650.09,14.64L653.17,8.48L647.01,8.48Z" fill="#ffa500"/><path d="M659.53,13.98L662.61,7.82L656.45,7.82Z" fill="#ffa500"/><path d="M668.98,25.13L672.06,18.97L665.90,18.97Z" fill="#ffa500"/></g>
<g clip-path="url(#cr)"><path d="M395.10,166.37L404.54,163.42L413.99,143.74L423.43,123.73L432.88,117.83L442.32,111.92L451.76,107.00L461.21,101.76L470.65,98.15L480.10,92.24L489.54,87.32L498.98,84.37L508.43,82.73L517.87,78.14L527.32,73.88L536.76,77.16L546.20,72.89L555.65,63.38L565.09,61.08L574.54,68.30L583.98,53.21L593.42,56.82L602.87,53.21L612.31,61.41L621.76,53.21L631.20,56.82L640.64,49.28L650.09,46.65L659.53,51.24L668.98,52.56" fill="none" stroke="#800080" stroke-width="1.4" stroke-linejoin="round" stroke-linecap="square"/><path d="M392.68,163.95L397.52,168.79M392.68,168.79L397.52,163.95" stroke="#800080" stroke-width="1.1" fill="none"/><path d="M402.12,161.00L406.96,165.84M402.12,165.84L406.96,161.00" stroke="#800080" stroke-width="1.1" fill="none"/><path d="M411.57,141.32L416.41,146.16M411.57,146.16L416.41,141.32" stroke="#800080" stroke-width="1.1" fill="none"/><path d="M421.01,121.31L425.85,126.15M421.01,126.15L425.85,121.31" stroke="#800080" stroke-width="1.1" fill="none"/><path d="M430.46,115.41L435.30,120.25M430.46,120.25L435.30,115.41" stroke="#800080" stroke-width="1.1" fill="none"/><path d="M439.90,109.50L444.74,114.34M439.90,114.34L444.74,109.50" stroke="#800080" stroke-width="1.1" fill="none"/><path d="M449.34,104.58L454.18,109.42M449.34,109.42L454.18,104.58" stroke="#800080" stroke-width="1.1" fill="none"/><path d="M458.79,99.34L463.63,104.18M458.79,104.18L463.63,99.34" stroke="#800080" stroke-width="1.1" fill="none"/><path d="M468.23,95.73L473.07,100.57M468.23,100.57L473.07,95.73" stroke="#800080" stroke-width="1.1" fill="none"/><path d="M477.68,89.82L482.52,94.66M477.68,94.66L482.52,89.82" stroke="#800080" stroke-width="1.1" fill="none"/><path d="M487.12,84.90L491.96,89.74M487.12,89.74L491.96,84.90" stroke="#800080" stroke-width="1.1" fill="none"/><path d="M496.56,81.95L501.40,86.79M496.56,86.79L501.40,81.95" stroke="#800080" stroke-width="1.1" fill="none"/><path d="M506.01,80.31L510.85,85.15M506.01,85.15L510.85,80.31" stroke="#800080" stroke-width="1.1" fill="none"/><path d="M515.45,75.72L520.29,80.56M515.45,80.56L520.29,75.72" stroke="#800080" stroke-width="1.1" fill="none"/><path d="M524.90,71.46L529.74,76.30M524.90,76.30L529.74,71.46" stroke="#800080" stroke-width="1.1" fill="none"/><path d="M534.34,74.74L539.18,79.58M534.34,79.58L539.18,74.74" stroke="#800080" stroke-width="1.1" fill="none"/><path d="M543.78,70.47L548.62,75.31M543.78,75.31L548.62,70.47" stroke="#800080" stroke-width="1.1" fill="none"/><path d="M553.23,60.96L558.07,65.80M553.23,65.80L558.07,60.96" stroke="#800080" stroke-width="1.1" fill="none"/><path d="M562.67,58.66L567.51,63.50M562.67,63.50L567.51,58.66" stroke="#800080" stroke-width="1.1" fill="none"/><path d="M572.12,65.88L576.96,70.72M572.12,70.72L576.96,65.88" stroke="#800080" stroke-width="1.1" fill="none"/><path d="M581.56,50.79L586.40,55.63M581.56,55.63L586.40,50.79" stroke="#800080" stroke-width="1.1" fill="none"/><path d="M591.00,54.40L595.84,59.24M591.00,59.24L595.84,54.40" stroke="#800080" stroke-width="1.1" fill="none"/><path d="M600.45,50.79L605.29,55.63M600.45,55.63L605.29,50.79" stroke="#800080" stroke-width="1.1" fill="none"/><path d="M609.89,58.99L614.73,63.83M609.89,63.83L614.73,58.99" stroke="#800080" stroke-width="1.1" fill="none"/><path d="M619.34,50.79L624.18,55.63M619.34,55.63L624.18,50.79" stroke="#800080" stroke-width="1.1" fill="none"/><path d="M628.78,54.40L633.62,59.24M628.78,59.24L633.62,54.40" stroke="#800080" stroke-width="1.1" fill="none"/><path d="M638.22,46.86L643.06,51.70M638.22,51.70L643.06,46.86" stroke="#800080" stroke-width="1.1" fill="none"/><path d="M647.67,44.23L652.51,49.07M647.67,49.07L652.51,44.23" stroke="#800080" stroke-width="1.1" fill="none"/><path d="M657.11,48.82L661.95,53.66M657.11,53.66L661.95,48.82" stroke="#800080" stroke-width="1.1" fill="none"/><path d="M666.56,50.14L671.40,54.98M666.56,54.98L671.40,50.14" stroke="#800080" stroke-width="1.1" fill="none"/></g>
<g clip-path="url(#cr)"><path d="M395.10,183.10L404.54,166.70L413.99,140.46L423.43,122.42L432.88,114.88L442.32,100.12L451.76,92.24L461.21,69.61L470.65,94.54L480.10,61.74L489.54,46.65L498.98,43.37L508.43,48.62L517.87,33.53L527.32,31.24L536.76,27.96L546.20,35.83L555.65,28.28L565.09,34.19L574.54,27.30L583.98,24.02L593.42,24.02L602.87,18.77L612.31,21.07L621.76,21.07L631.20,23.04L640.64,18.12L650.09,18.77L659.53,18.12L668.98,17.79" fill="none" stroke="#800080" stroke-width="1.4" stroke-linejoin="round" stroke-linecap="square"/><circle cx="395.10" cy="183.10" r="1.87" fill="#800080"/><circle cx="404.54" cy="166.70" r="1.87" fill="#800080"/><circle cx="413.99" cy="140.46" r="1.87" fill="#800080"/><circle cx="423.43" cy="122.42" r="1.87" fill="#800080"/><circle cx="432.88" cy="114.88" r="1.87" fill="#800080"/><circle cx="442.32" cy="100.12" r="1.87" fill="#800080"/><circle cx="451.76" cy="92.24" r="1.87" fill="#800080"/><circle cx="461.21" cy="69.61" r="1.87" fill="#800080"/><circle cx="470.65" cy="94.54" r="1.87" fill="#800080"/><circle cx="480.10" cy="61.74" r="1.87" fill="#800080"/><circle cx="489.54" cy="46.65" r="1.87" fill="#800080"/><circle cx="498.98" cy="43.37" r="1.87" fill="#800080"/><circle cx="508.43" cy="48.62" r="1.87" fill="#800080"/><circle cx="517.87" cy="33.53" r="1.87" fill="#800080"/><circle cx="527.32" cy="31.24" r="1.87" fill="#800080"/><circle cx="536.76" cy="27.96" r="1.87" fill="#800080"/><circle cx="546.20" cy="35.83" r="1.87" fill="#800080"/><circle cx="555.65" cy="28.28" r="1.87" fill="#800080"/><circle cx="565.09" cy="34.19" r="1.87" fill="#800080"/><circle cx="574.54" cy="27.30" r="1.87" fill="#800080"/><circle cx="583.98" cy="24.02" r="1.87" fill="#800080"/><circle cx="593.42" cy="24.02" r="1.87" fill="#800080"/><circle cx="602.87" cy="18.77" r="1.87" fill="#800080"/><circle cx="612.31" cy="21.07" r="1.87" fill="#800080"/><circle cx="621.76" cy="21.07" r="1.87" fill="#800080"/><circle cx="631.20" cy="23.04" r="1.87" fill="#800080"/><circle cx="640.64" cy="18.12" r="1.87" fill="#800080"/><circle cx="650.09" cy="18.77" r="1.87" fill="#800080"/><circle cx="659.53" cy="18.12" r="1.87" fill="#800080"/><circle cx="668.98" cy="17.79" r="1.87" fill="#800080"/></g>
<line x1="31.80" y1="3.45" x2="332.30" y2="3.45" stroke="#585858" stroke-width="1.2"/><line x1="31.80" y1="225.9" x2="332.30" y2="225.9" stroke="#bdbdbd" stroke-width="2.4"/><line x1="31.9" y1="2.90" x2="31.9" y2="226.30" stroke="#8f8f8f" stroke-width="2.0"/><line x1="331.9" y1="2.90" x2="331.9" y2="226.30" stroke="#9a9a9a" stroke-width="2.2"/>
<line x1="380.80" y1="1.95" x2="682.90" y2="1.95" stroke="#a5a5a5" stroke-width="2.2"/><line x1="380.80" y1="225.8" x2="682.90" y2="225.8" stroke="#adadad" stroke-width="2.2"/><line x1="381.5" y1="1.50" x2="381.5" y2="225.70" stroke="#6a6a6a" stroke-width="1.5"/><line x1="682.5" y1="1.50" x2="682.5" y2="225.70" stroke="#8a8a8a" stroke-width="2.0"/>
<line x1="46.00" y1="225.80" x2="46.00" y2="229.20" stroke="#3a3a3a" stroke-width="0.9"/>
<text x="46.00" y="238.90" text-anchor="middle" class="tk" textLength="3.90" lengthAdjust="spacingAndGlyphs">0</text>
<line x1="102.70" y1="225.80" x2="102.70" y2="229.20" stroke="#3a3a3a" stroke-width="0.9"/>
<text x="102.70" y="238.90" text-anchor="middle" class="tk" textLength="7.40" lengthAdjust="spacingAndGlyphs">50</text>
<line x1="159.40" y1="225.80" x2="159.40" y2="229.20" stroke="#3a3a3a" stroke-width="0.9"/>
<text x="159.40" y="238.90" text-anchor="middle" class="tk" textLength="11.10" lengthAdjust="spacingAndGlyphs">100</text>
<line x1="216.10" y1="225.80" x2="216.10" y2="229.20" stroke="#3a3a3a" stroke-width="0.9"/>
<text x="216.10" y="238.90" text-anchor="middle" class="tk" textLength="11.10" lengthAdjust="spacingAndGlyphs">150</text>
<line x1="272.80" y1="225.80" x2="272.80" y2="229.20" stroke="#3a3a3a" stroke-width="0.9"/>
<text x="272.80" y="238.90" text-anchor="middle" class="tk" textLength="11.10" lengthAdjust="spacingAndGlyphs">200</text>
<line x1="329.50" y1="225.80" x2="329.50" y2="229.20" stroke="#3a3a3a" stroke-width="0.9"/>
<text x="329.50" y="238.90" text-anchor="middle" class="tk" textLength="11.10" lengthAdjust="spacingAndGlyphs">250</text>
<line x1="28.90" y1="190.10" x2="32.30" y2="190.10" stroke="#3a3a3a" stroke-width="0.9"/>
<text x="25.10" y="193.45" text-anchor="end" class="tk" textLength="7.40" lengthAdjust="spacingAndGlyphs">20</text>
<line x1="28.90" y1="144.20" x2="32.30" y2="144.20" stroke="#3a3a3a" stroke-width="0.9"/>
<text x="25.10" y="147.55" text-anchor="end" class="tk" textLength="7.40" lengthAdjust="spacingAndGlyphs">40</text>
<line x1="28.90" y1="98.30" x2="32.30" y2="98.30" stroke="#3a3a3a" stroke-width="0.9"/>
<text x="25.10" y="101.65" text-anchor="end" class="tk" textLength="7.40" lengthAdjust="spacingAndGlyphs">60</text>
<line x1="28.90" y1="52.40" x2="32.30" y2="52.40" stroke="#3a3a3a" stroke-width="0.9"/>
<text x="25.10" y="55.75" text-anchor="end" class="tk" textLength="7.40" lengthAdjust="spacingAndGlyphs">80</text>
<line x1="28.90" y1="6.50" x2="32.30" y2="6.50" stroke="#3a3a3a" stroke-width="0.9"/>
<text x="25.10" y="9.85" text-anchor="end" class="tk" textLength="11.10" lengthAdjust="spacingAndGlyphs">100</text>
<line x1="395.10" y1="225.20" x2="395.10" y2="228.60" stroke="#3a3a3a" stroke-width="0.9"/>
<text x="394.70" y="239.00" text-anchor="middle" class="tk" textLength="3.90" lengthAdjust="spacingAndGlyphs">0</text>
<line x1="442.32" y1="225.20" x2="442.32" y2="228.60" stroke="#3a3a3a" stroke-width="0.9"/>
<text x="441.92" y="239.00" text-anchor="middle" class="tk" textLength="11.10" lengthAdjust="spacingAndGlyphs">100</text>
<line x1="489.54" y1="225.20" x2="489.54" y2="228.60" stroke="#3a3a3a" stroke-width="0.9"/>
<text x="489.14" y="239.00" text-anchor="middle" class="tk" textLength="11.10" lengthAdjust="spacingAndGlyphs">200</text>
<line x1="536.76" y1="225.20" x2="536.76" y2="228.60" stroke="#3a3a3a" stroke-width="0.9"/>
<text x="536.36" y="239.00" text-anchor="middle" class="tk" textLength="11.10" lengthAdjust="spacingAndGlyphs">300</text>
<line x1="583.98" y1="225.20" x2="583.98" y2="228.60" stroke="#3a3a3a" stroke-width="0.9"/>
<text x="583.58" y="239.00" text-anchor="middle" class="tk" textLength="11.10" lengthAdjust="spacingAndGlyphs">400</text>
<line x1="631.20" y1="225.20" x2="631.20" y2="228.60" stroke="#3a3a3a" stroke-width="0.9"/>
<text x="630.80" y="239.00" text-anchor="middle" class="tk" textLength="11.10" lengthAdjust="spacingAndGlyphs">500</text>
<line x1="678.42" y1="225.20" x2="678.42" y2="228.60" stroke="#3a3a3a" stroke-width="0.9"/>
<text x="678.02" y="239.00" text-anchor="middle" class="tk" textLength="11.10" lengthAdjust="spacingAndGlyphs">600</text>
<line x1="377.90" y1="215.45" x2="381.30" y2="215.45" stroke="#3a3a3a" stroke-width="0.9"/>
<text x="375.20" y="218.80" text-anchor="end" class="tk" textLength="4.20" lengthAdjust="spacingAndGlyphs">0</text>
<line x1="377.90" y1="182.78" x2="381.30" y2="182.78" stroke="#3a3a3a" stroke-width="0.9"/>
<text x="374.10" y="186.13" text-anchor="end" class="tk" textLength="7.20" lengthAdjust="spacingAndGlyphs">10</text>
<line x1="377.90" y1="150.12" x2="381.30" y2="150.12" stroke="#3a3a3a" stroke-width="0.9"/>
<text x="374.10" y="153.47" text-anchor="end" class="tk" textLength="7.20" lengthAdjust="spacingAndGlyphs">20</text>
<line x1="377.90" y1="117.45" x2="381.30" y2="117.45" stroke="#3a3a3a" stroke-width="0.9"/>
<text x="374.10" y="120.80" text-anchor="end" class="tk" textLength="7.20" lengthAdjust="spacingAndGlyphs">30</text>
<line x1="377.90" y1="84.78" x2="381.30" y2="84.78" stroke="#3a3a3a" stroke-width="0.9"/>
<text x="374.10" y="88.13" text-anchor="end" class="tk" textLength="7.20" lengthAdjust="spacingAndGlyphs">40</text>
<line x1="377.90" y1="52.11" x2="381.30" y2="52.11" stroke="#3a3a3a" stroke-width="0.9"/>
<text x="374.10" y="55.46" text-anchor="end" class="tk" textLength="7.20" lengthAdjust="spacingAndGlyphs">50</text>
<line x1="377.90" y1="19.45" x2="381.30" y2="19.45" stroke="#3a3a3a" stroke-width="0.9"/>
<text x="374.10" y="22.80" text-anchor="end" class="tk" textLength="7.20" lengthAdjust="spacingAndGlyphs">60</text>
<rect x="230.70" y="109.90" width="96.20" height="111.10" rx="2" ry="2" fill="#ffffff" fill-opacity="0.8" stroke="#cccccc" stroke-opacity="0.8" stroke-width="0.9"/>
<line x1="232.90" y1="117.90" x2="254.70" y2="117.90" stroke="#b22222" stroke-width="1.4"/>
<path d="M243.80,115.10L246.60,120.70L241.00,120.70Z" fill="#b22222"/>
<text x="262.60" y="121.50" class="lg" textLength="39.44" lengthAdjust="spacingAndGlyphs">NoAttack</text>
<line x1="232.90" y1="131.33" x2="254.70" y2="131.33" stroke="#008000" stroke-width="1.4"/>
<polygon points="243.80,128.43 246.56,130.43 245.50,133.68 242.10,133.68 241.04,130.43" fill="#008000"/>
<text x="262.60" y="134.93" class="lg" textLength="44.37" lengthAdjust="spacingAndGlyphs">NoDefense</text>
<line x1="232.90" y1="144.76" x2="254.70" y2="144.76" stroke="#0000ff" stroke-width="1.4"/>
<path d="M241.00,144.76H246.60M243.80,141.96V147.56" stroke="#0000ff" stroke-width="1.1" fill="none"/>
<text x="262.60" y="148.36" class="lg" textLength="29.58" lengthAdjust="spacingAndGlyphs">Bulyan</text>
<line x1="232.90" y1="158.19" x2="254.70" y2="158.19" stroke="#ff0000" stroke-width="1.4"/>
<rect x="241.10" y="155.49" width="5.40" height="5.40" fill="#ff0000"/>
<text x="262.60" y="161.79" class="lg" textLength="54.23" lengthAdjust="spacingAndGlyphs">TrimmedMean</text>
<line x1="232.90" y1="171.62" x2="254.70" y2="171.62" stroke="#008000" stroke-width="1.4"/>
<path d="M243.80,167.92L247.50,171.62L243.80,175.32L240.10,171.62Z" fill="#008000"/>
<text x="262.60" y="175.22" class="lg" textLength="19.72" lengthAdjust="spacingAndGlyphs">Krum</text>
<line x1="232.90" y1="185.05" x2="254.70" y2="185.05" stroke="#ffa500" stroke-width="1.4"/>
<path d="M243.80,187.85L246.60,182.25L241.00,182.25Z" fill="#ffa500"/>
<text x="262.60" y="188.65" class="lg" textLength="29.58" lengthAdjust="spacingAndGlyphs">Kmeans</text>
<line x1="232.90" y1="198.48" x2="254.70" y2="198.48" stroke="#800080" stroke-width="1.4"/>
<path d="M241.60,196.28L246.00,200.68M241.60,200.68L246.00,196.28" stroke="#800080" stroke-width="1.1" fill="none"/>
<text x="262.60" y="202.08" class="lg" textLength="49.30" lengthAdjust="spacingAndGlyphs">Loss-Based</text>
<line x1="232.90" y1="211.91" x2="254.70" y2="211.91" stroke="#800080" stroke-width="1.4"/>
<circle cx="243.80" cy="211.91" r="1.70" fill="#800080"/>
<text x="262.60" y="215.51" class="lg" textLength="59.16" lengthAdjust="spacingAndGlyphs">Vector-Based</text>
<rect x="580.60" y="109.50" width="97.30" height="111.30" rx="2" ry="2" fill="#ffffff" fill-opacity="0.8" stroke="#cccccc" stroke-opacity="0.8" stroke-width="0.9"/>
<line x1="582.80" y1="117.00" x2="604.60" y2="117.00" stroke="#b22222" stroke-width="1.4"/>
<path d="M593.70,114.20L596.50,119.80L590.90,119.80Z" fill="#b22222"/>
<text x="612.50" y="120.60" class="lg" textLength="39.44" lengthAdjust="spacingAndGlyphs">NoAttack</text>
<line x1="582.80" y1="130.50" x2="604.60" y2="130.50" stroke="#008000" stroke-width="1.4"/>
<polygon points="593.70,127.60 596.46,129.60 595.40,132.85 592.00,132.85 590.94,129.60" fill="#008000"/>
<text x="612.50" y="134.10" class="lg" textLength="44.37" lengthAdjust="spacingAndGlyphs">NoDefense</text>
<line x1="582.80" y1="144.00" x2="604.60" y2="144.00" stroke="#0000ff" stroke-width="1.4"/>
<path d="M590.90,144.00H596.50M593.70,141.20V146.80" stroke="#0000ff" stroke-width="1.1" fill="none"/>
<text x="612.50" y="147.60" class="lg" textLength="29.58" lengthAdjust="spacingAndGlyphs">Bulyan</text>
<line x1="582.80" y1="157.50" x2="604.60" y2="157.50" stroke="#ff0000" stroke-width="1.4"/>
<rect x="591.00" y="154.80" width="5.40" height="5.40" fill="#ff0000"/>
<text x="612.50" y="161.10" class="lg" textLength="54.23" lengthAdjust="spacingAndGlyphs">TrimmedMean</text>
<line x1="582.80" y1="171.00" x2="604.60" y2="171.00" stroke="#008000" stroke-width="1.4"/>
<path d="M593.70,167.30L597.40,171.00L593.70,174.70L590.00,171.00Z" fill="#008000"/>
<text x="612.50" y="174.60" class="lg" textLength="19.72" lengthAdjust="spacingAndGlyphs">Krum</text>
<line x1="582.80" y1="184.50" x2="604.60" y2="184.50" stroke="#ffa500" stroke-width="1.4"/>
<path d="M593.70,187.30L596.50,181.70L590.90,181.70Z" fill="#ffa500"/>
<text x="612.50" y="188.10" class="lg" textLength="29.58" lengthAdjust="spacingAndGlyphs">Kmeans</text>
<line x1="582.80" y1="198.00" x2="604.60" y2="198.00" stroke="#800080" stroke-width="1.4"/>
<path d="M591.50,195.80L595.90,200.20M591.50,200.20L595.90,195.80" stroke="#800080" stroke-width="1.1" fill="none"/>
<text x="612.50" y="201.60" class="lg" textLength="49.30" lengthAdjust="spacingAndGlyphs">Loss-Based</text>
<line x1="582.80" y1="211.50" x2="604.60" y2="211.50" stroke="#800080" stroke-width="1.4"/>
<circle cx="593.70" cy="211.50" r="1.70" fill="#800080"/>
<text x="612.50" y="215.10" class="lg" textLength="59.16" lengthAdjust="spacingAndGlyphs">Vector-Based</text>
<text x="182.1" y="250.5" class="lab" text-anchor="middle">epochs</text>
<text x="532.0" y="250.5" class="lab" text-anchor="middle">epochs</text>
<text transform="translate(6.3,114.6) rotate(-90)" class="lab" text-anchor="middle">accuracy</text>
<text transform="translate(360.5,114.4) rotate(-90)" class="lab" text-anchor="middle">accuracy</text>
<text x="142.8" y="274.0" class="cap" textLength="11.8" lengthAdjust="spacingAndGlyphs">(a)</text><text x="159.5" y="274.0" class="cap" textLength="32.4" lengthAdjust="spacingAndGlyphs">MNIST</text>
<text x="487.6" y="274.0" class="cap" textLength="12.8" lengthAdjust="spacingAndGlyphs">(b)</text><text x="504.5" y="274.0" class="cap" textLength="43" lengthAdjust="spacingAndGlyphs">CIFAR10</text>
</svg>
</body></html>
